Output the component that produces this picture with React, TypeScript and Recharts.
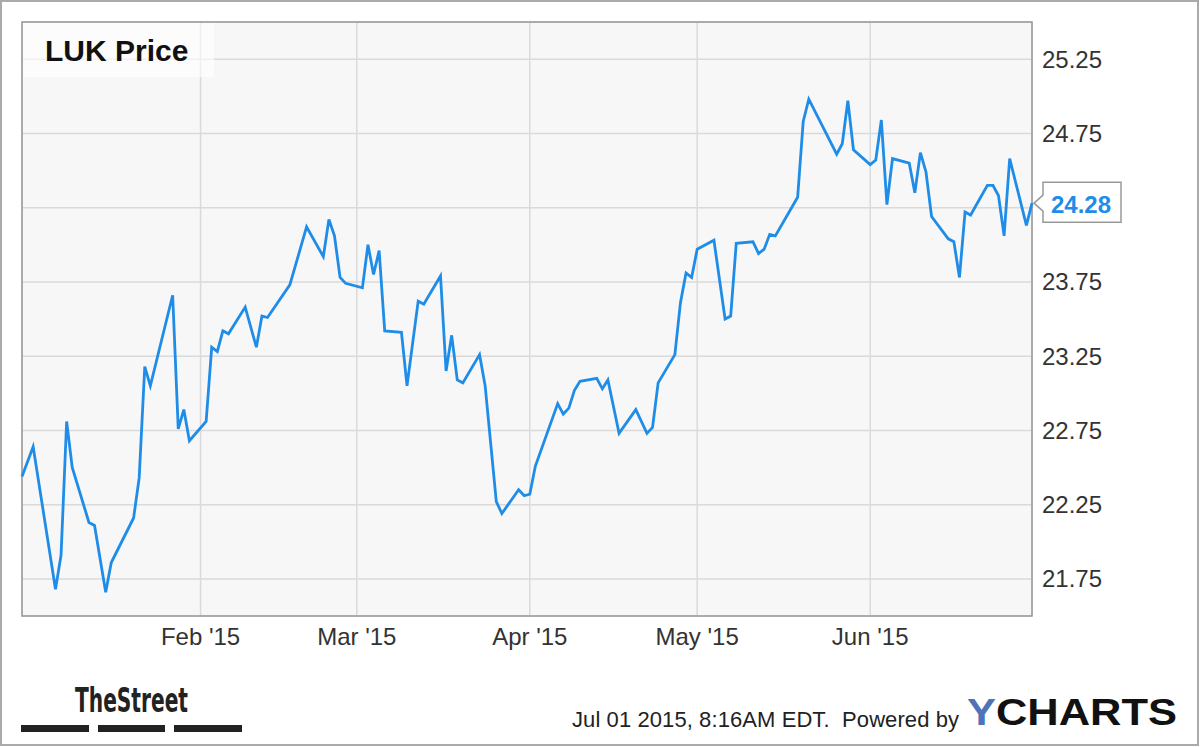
import React from 'react';
import { LineChart, Line, XAxis, YAxis, CartesianGrid, ReferenceArea, LabelList } from 'recharts';

// days since 2014-12-31
const days = [0,2,6,7,8,9,12,13,15,16,20,21,22,23,27,28,29,30,33,34,35,36,37,40,42,43,44,48,51,54,55,56,57,58,61,62,63,64,65,68,69,71,72,75,76,77,78,79,82,83,85,86,89,90,91,92,96,97,98,99,100,103,104,105,107,110,112,113,114,117,118,119,120,121,124,126,127,128,131,132,133,134,135,139,140,141,146,147,148,149,152,153,154,155,156,159,160,161,162,163,166,167,168,169,170,173,174,175,176,177,180,181];
const prices = [22.44,22.64,21.68,21.91,22.81,22.50,22.13,22.11,21.66,21.86,22.16,22.43,23.18,23.05,23.66,22.76,22.89,22.68,22.81,23.31,23.28,23.42,23.40,23.58,23.31,23.52,23.51,23.73,24.12,23.92,24.17,24.06,23.78,23.74,23.71,24.00,23.80,23.96,23.42,23.41,23.05,23.62,23.60,23.79,23.15,23.39,23.09,23.07,23.26,23.05,22.27,22.19,22.35,22.31,22.32,22.51,22.93,22.86,22.90,23.02,23.08,23.10,23.03,23.09,22.73,22.89,22.73,22.77,23.07,23.26,23.61,23.81,23.78,23.97,24.03,23.50,23.52,24.01,24.02,23.94,23.97,24.07,24.06,24.32,24.83,24.98,24.61,24.68,24.97,24.64,24.54,24.57,24.84,24.27,24.58,24.55,24.35,24.62,24.49,24.19,24.04,24.02,23.78,24.22,24.20,24.40,24.40,24.33,24.06,24.58,24.13,24.28];

const xTicks = [32, 60, 91, 121, 152];
const xTickLabels = ["Feb '15", "Mar '15", "Apr '15", "May '15", "Jun '15"];
const yTicks = [21.75, 22.25, 22.75, 23.25, 23.75, 24.25, 24.75, 25.25];
const hiddenYTick = 24.25; // covered by the last-price callout
const xDomain = [0, 181];
const yDomain = [21.5, 25.5];

const title = 'LUK Price';
const timestamp = 'Jul 01 2015, 8:16AM EDT.  Powered by';

const LINE = '#1f8de8';
const FONT = '"Liberation Sans", Arial, sans-serif';

const data = days.map((d, i) => ({ day: d, price: prices[i] }));

const Callout = (props: any) => {
  const { x, y, index, value } = props;
  if (index !== data.length - 1) return null;
  const path = `M ${x + 2} ${y} L ${x + 11} ${y - 8} L ${x + 11} ${y - 21} L ${x + 89} ${y - 21} L ${x + 89} ${y + 19} L ${x + 11} ${y + 19} L ${x + 11} ${y + 8} Z`;
  return (
    <g>
      <path d={path} fill="#fff" stroke="#999" strokeWidth={1.5} />
      <text x={x + 49} y={y + 1} textAnchor="middle" dominantBaseline="central" fontFamily={FONT} fontWeight="bold" fontSize={24} fill={LINE}>
        {Number(value).toFixed(2)}
      </text>
    </g>
  );
};

export default function App() {
  return (
    <div style={{ position: 'absolute', left: 0, top: 0, width: 1200, height: 747, background: '#fff' }}>
      <LineChart width={1200} height={747} data={data} margin={{ top: 22, right: 0, left: 22, bottom: 0 }}>
        <CartesianGrid fill="#f7f7f7" stroke="#dadada" strokeWidth={1.5} />
        <XAxis
          dataKey="day"
          type="number"
          domain={xDomain}
          ticks={xTicks}
          tickFormatter={(v: number) => xTickLabels[xTicks.indexOf(v)]}
          axisLine={false}
          tickLine={false}
          tickSize={0}
          tickMargin={12}
          height={131}
          tick={{ fontFamily: FONT, fontSize: 24, fill: '#333' }}
        />
        <YAxis
          orientation="right"
          type="number"
          domain={yDomain}
          ticks={yTicks}
          tickFormatter={(v: number) => (v === hiddenYTick ? '' : v.toFixed(2))}
          axisLine={false}
          tickLine={false}
          tickSize={0}
          tickMargin={10}
          width={168}
          tick={{ fontFamily: FONT, fontSize: 24, fill: '#333' }}
        />
        <ReferenceArea x1={xDomain[0]} x2={xDomain[1]} y1={yDomain[0]} y2={yDomain[1]} fill="none" stroke="#999" strokeWidth={1.5} ifOverflow="visible" />
        <Line type="linear" dataKey="price" stroke={LINE} strokeWidth={2.8} dot={false} isAnimationActive={false}>
          <LabelList dataKey="price" content={Callout} />
        </Line>
      </LineChart>
      <svg width={1200} height={747} style={{ position: 'absolute', left: 0, top: 0, pointerEvents: 'none' }}>
        <rect x={1} y={1} width={1197} height={744} fill="none" stroke="#aaa" strokeWidth={2} />
        <rect x={23} y={23} width={191} height={54} fill="#fff" fillOpacity={0.6} />
        <text x={45} y={61} fontFamily={FONT} fontWeight="bold" fontSize={30} fill="#111">{title}</text>
        <text x={75} y={712} fontFamily='"Liberation Sans Narrow", "DejaVu Sans Condensed", sans-serif' fontWeight="bold" fontSize={34} fill="#222" textLength={113} lengthAdjust="spacingAndGlyphs">TheStreet</text>
        <rect x={21} y={725} width={68} height={7} fill="#222" />
        <rect x={98} y={725} width={67} height={7} fill="#222" />
        <rect x={174} y={725} width={68} height={7} fill="#222" />
        <text x={572} y={727} fontFamily={FONT} fontSize={22} fill="#222" textLength={387} style={{ whiteSpace: 'pre' }}>{timestamp}</text>
        <text x={967} y={725} fontFamily={FONT} fontWeight="bold" fontSize={37} fill="#111" textLength={210} lengthAdjust="spacingAndGlyphs">
          <tspan fill="#4f73b8">Y</tspan>CHARTS
        </text>
      </svg>
    </div>
  );
}
